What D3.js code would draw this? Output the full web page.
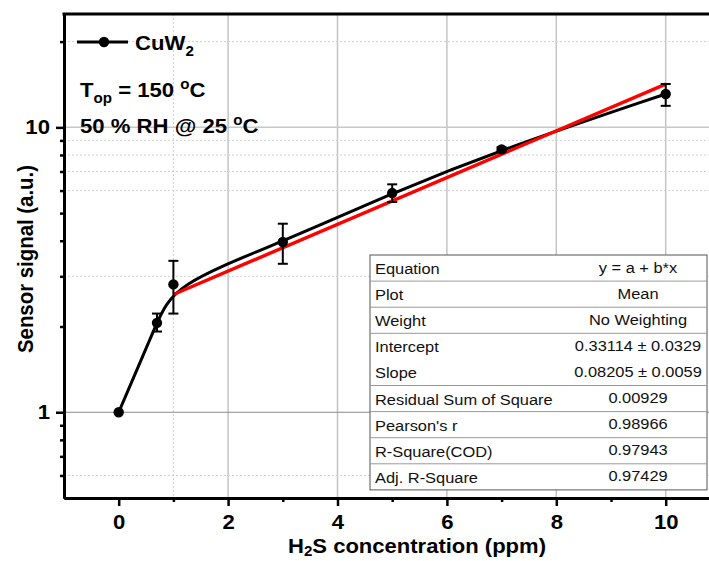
<!DOCTYPE html>
<html>
<head>
<meta charset="utf-8">
<script src="https://cdn.jsdelivr.net/npm/d3@7"></script>
<style>
  body { margin: 0; background: #fff; }
  svg { display: block; font-family: "Liberation Sans", Arial, sans-serif; }
</style>
</head>
<body>
<div id="chart"></div>
<script>
// data
var conc = [0, 0.7, 1, 3, 5, 7, 10];
var signal = [1, 2.06, 2.81, 3.96, 5.88, 8.37, 13.1];
var errLow = [1, 1.92, 2.22, 3.32, 5.47, 8.22, 11.9];
var errHigh = [1, 2.22, 3.40, 4.59, 6.31, 8.52, 14.2];

// linear fit (red line) end points
var fitX = [1, 10];
var fitY = [2.59, 14.19];

var xMajor = [0, 2, 4, 6, 8, 10];
var xMinor = [1, 3, 5, 7, 9];
var yMajor = [1, 10];
var yMinor = [0.6, 0.7, 0.8, 0.9, 2, 3, 4, 5, 6, 7, 8, 9, 20];
var yDotted = [0.6, 3, 6, 7, 8, 9, 20];
var xDotted = [1];

var tableLabels = ["Equation", "Plot", "Weight", "Intercept", "Slope",
  "Residual Sum of Square", "Pearson's r", "R-Square(COD)", "Adj. R-Square"];
var tableValues = ["y = a + b*x", "Mean", "No Weighting", "0.33114 \u00b1 0.0329",
  "0.08205 \u00b1 0.0059", "0.00929", "0.98966", "0.97943", "0.97429"];

var W = 709, H = 561;
var margin = {top: 14, left: 64, bottom: 63};
var k = 1.08; // the text in the picture is a little wide

var svg = d3.select("#chart").append("svg")
  .attr("width", W).attr("height", H);

var x = d3.scaleLinear().domain([-1, 11]).range([64, 720.4]);
var y = d3.scaleLog().domain([0.5, 25]).range([H - margin.bottom, margin.top]);

var x0 = x.range()[0], x1 = x.range()[1];
var yb = y.range()[0], yt = y.range()[1];

// text placed with a small horizontal stretch
function label(px, py, size, bold) {
  return svg.append("text")
    .attr("transform", "translate(" + px + "," + py + ") scale(" + k + ",1)")
    .attr("font-size", size)
    .attr("font-weight", bold ? "bold" : "normal");
}

// grid
var grid = svg.append("g");
grid.selectAll(".vg").data(xMajor.filter(function(d) { return d > 0; })).enter()
  .append("line")
  .attr("x1", function(d) { return x(d); }).attr("x2", function(d) { return x(d); })
  .attr("y1", yt).attr("y2", yb)
  .attr("stroke", "#c4c4c4").attr("stroke-width", 1.5);
grid.selectAll(".vd").data(xDotted).enter()
  .append("line")
  .attr("x1", function(d) { return x(d); }).attr("x2", function(d) { return x(d); })
  .attr("y1", yt).attr("y2", yb)
  .attr("stroke", "#cfcfcf").attr("stroke-width", 1).attr("stroke-dasharray", "2,2");
grid.selectAll(".hd").data(yDotted).enter()
  .append("line")
  .attr("x1", x0).attr("x2", x1)
  .attr("y1", function(d) { return y(d); }).attr("y2", function(d) { return y(d); })
  .attr("stroke", "#cfcfcf").attr("stroke-width", 1).attr("stroke-dasharray", "2,2");
grid.append("line")
  .attr("x1", x0).attr("x2", x1).attr("y1", y(10)).attr("y2", y(10))
  .attr("stroke", "#c8c8c8").attr("stroke-width", 1.5);
grid.append("line")
  .attr("x1", x0).attr("x2", x1).attr("y1", y(1)).attr("y2", y(1))
  .attr("stroke", "#8a8a8a").attr("stroke-width", 1.2);

// fit table
var tx = 370, ty = 255, tw = 337, rowH = 26.1;
var table = svg.append("g");
table.append("rect")
  .attr("x", tx).attr("y", ty).attr("width", tw).attr("height", rowH * tableLabels.length)
  .attr("fill", "#fff").attr("stroke", "#555").attr("stroke-width", 1);
tableLabels.forEach(function(lab, i) {
  if (i > 0 && i != 4) {
    table.append("line")
      .attr("x1", tx).attr("x2", tx + tw)
      .attr("y1", ty + rowH * i).attr("y2", ty + rowH * i)
      .attr("stroke", "#999").attr("stroke-width", 1);
  }
  table.append("text")
    .attr("transform", "translate(" + (tx + 5) + "," + (ty + rowH * i + 19) + ") scale(" + k + ",1)")
    .attr("font-size", 15.2).attr("fill", "#111")
    .text(lab);
  table.append("text")
    .attr("transform", "translate(638," + (ty + rowH * i + 17.5) + ") scale(" + k + ",1)")
    .attr("text-anchor", "middle")
    .attr("font-size", 15.2).attr("fill", "#111")
    .text(tableValues[i]);
});

// data line (smoothed like the original spline)
var pts = conc.map(function(c, i) { return [x(c), y(signal[i])]; });
svg.append("path")
  .datum(pts)
  .attr("fill", "none").attr("stroke", "#000").attr("stroke-width", 3)
  .attr("d", d3.line().curve(d3.curveBasis));

// red fit line
svg.append("path")
  .datum(fitX.map(function(c, i) { return [x(c), y(fitY[i])]; }))
  .attr("fill", "none").attr("stroke", "#ff0000").attr("stroke-width", 3.4)
  .attr("d", d3.line());

// error bars
var eb = svg.append("g").attr("stroke", "#000").attr("stroke-width", 2);
conc.forEach(function(c, i) {
  if (errHigh[i] == errLow[i]) return;
  var cx = x(c);
  eb.append("line").attr("x1", cx).attr("x2", cx)
    .attr("y1", y(errLow[i])).attr("y2", y(errHigh[i]));
  eb.append("line").attr("x1", cx - 5).attr("x2", cx + 5)
    .attr("y1", y(errLow[i])).attr("y2", y(errLow[i]));
  eb.append("line").attr("x1", cx - 5).attr("x2", cx + 5)
    .attr("y1", y(errHigh[i])).attr("y2", y(errHigh[i]));
});

// markers
svg.selectAll(".pt").data(conc).enter()
  .append("circle")
  .attr("cx", function(d) { return x(d); })
  .attr("cy", function(d, i) { return y(signal[i]); })
  .attr("r", 5.2).attr("fill", "#000");

// axes
svg.append("g")
  .attr("transform", "translate(0," + yb + ")")
  .call(d3.axisBottom(x).tickValues(xMajor).tickSize(8).tickSizeOuter(0).tickPadding(8));
svg.append("g")
  .attr("transform", "translate(0," + yb + ")")
  .call(d3.axisBottom(x).tickValues(xMinor).tickSize(4).tickSizeOuter(0).tickFormat(""));
svg.append("g")
  .attr("transform", "translate(" + x0 + ",0)")
  .call(d3.axisLeft(y).tickValues(yMajor).tickFormat(d3.format("d")).tickSize(8).tickSizeOuter(0).tickPadding(5));
svg.append("g")
  .attr("transform", "translate(" + x0 + ",0)")
  .call(d3.axisLeft(y).tickValues(yMinor).tickFormat("").tickSize(4).tickSizeOuter(0));

svg.selectAll(".domain").attr("stroke", "#000").attr("stroke-width", 3);
svg.selectAll(".tick line").attr("stroke", "#000").attr("stroke-width", 2.5);
svg.selectAll(".tick text")
  .attr("transform", "scale(" + k + ",1)")
  .attr("font-family", "'Liberation Sans', Arial, sans-serif")
  .attr("font-size", 20.5).attr("font-weight", "bold").attr("fill", "#000");

// top border
svg.append("line")
  .attr("x1", x0 - 1.5).attr("x2", W).attr("y1", yt).attr("y2", yt)
  .attr("stroke", "#000").attr("stroke-width", 3.2);

// axis titles
svg.append("text")
  .attr("transform", "translate(33,259) rotate(-90) scale(1," + k + ")")
  .attr("text-anchor", "middle")
  .attr("font-size", 20.4).attr("font-weight", "bold")
  .text("Sensor signal (a.u.)");
var xt = label(417, 553, 20.4, true).attr("text-anchor", "middle");
xt.append("tspan").text("H");
xt.append("tspan").attr("font-size", 14).attr("dy", 3).text("2");
xt.append("tspan").attr("dy", -3).text("S concentration (ppm)");

// legend
svg.append("line")
  .attr("x1", 77).attr("x2", 128).attr("y1", 42).attr("y2", 42)
  .attr("stroke", "#000").attr("stroke-width", 3);
svg.append("circle").attr("cx", 104).attr("cy", 42).attr("r", 5.2).attr("fill", "#000");
var lg = label(135, 50, 20.5, true);
lg.append("tspan").text("CuW");
lg.append("tspan").attr("font-size", 14).attr("dy", 6).text("2");

var t1 = label(80, 97, 20.5, true);
t1.append("tspan").text("T");
t1.append("tspan").attr("font-size", 14).attr("dy", 6).text("op");
t1.append("tspan").attr("dy", -6).text(" = 150 ");
t1.append("tspan").attr("font-size", 14).attr("dy", -8).text("o");
t1.append("tspan").attr("dy", 8).text("C");

var t2 = label(80, 133, 20.5, true);
t2.append("tspan").text("50 % RH @ 25 ");
t2.append("tspan").attr("font-size", 14).attr("dy", -8).text("o");
t2.append("tspan").attr("dy", 8).text("C");
</script>
</body>
</html>
